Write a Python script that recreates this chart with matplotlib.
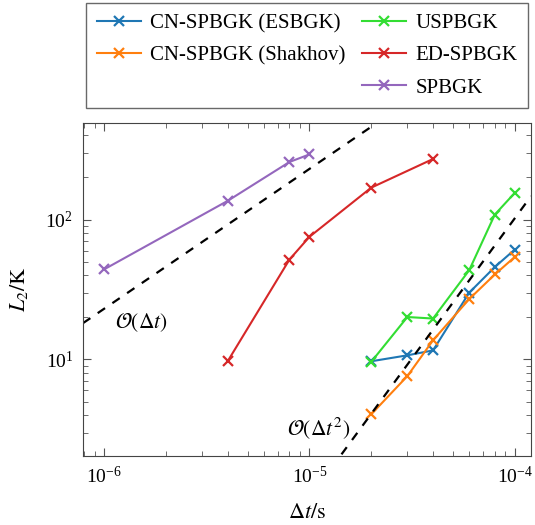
import numpy as np
import matplotlib
matplotlib.use("Agg")
import matplotlib.pyplot as plt
from matplotlib.lines import Line2D

plt.rcParams['font.family'] = ['Liberation Serif', 'DejaVu Serif']
plt.rcParams['mathtext.fontset'] = 'stix'

# Data
dt_esbgk = [2e-5, 3e-5, 4e-5, 6e-5, 8e-5, 1e-4]
l2_esbgk = [9.7, 10.7, 11.6, 30.0, 45.8, 61.0]

dt_shakhov = [2e-5, 3e-5, 4e-5, 6e-5, 8e-5, 1e-4]
l2_shakhov = [4.05, 7.6, 13.7, 27.0, 40.5, 54.0]

dt_uspbgk = [2e-5, 3e-5, 4e-5, 6e-5, 8e-5, 1e-4]
l2_uspbgk = [9.6, 20.1, 19.6, 43.4, 108.6, 155.0]

dt_ed = [4e-6, 8e-6, 1e-5, 2e-5, 4e-5]
l2_ed = [9.7, 51.8, 75.2, 169.0, 271.0]

dt_sp = [1e-6, 4e-6, 8e-6, 1e-5]
l2_sp = [44.0, 136.0, 258.0, 292.0]

order1_coeff = 2.3e7
order2_coeff = 1.02e10

xlim = (7.9e-7, 1.2e-4)
ylim = (2.04, 490)

fig = plt.figure(figsize=(5.35, 5.25), dpi=100)
ax = fig.add_axes([83/535, 1-456/525, (531-83)/535, (456-123)/525])

series = [
    (dt_esbgk, l2_esbgk, '#1f77b4', 'CN-SPBGK (ESBGK)'),
    (dt_shakhov, l2_shakhov, '#ff7f0e', 'CN-SPBGK (Shakhov)'),
    (dt_uspbgk, l2_uspbgk, '#33dd33', 'USPBGK'),
    (dt_ed, l2_ed, '#d62728', 'ED-SPBGK'),
    (dt_sp, l2_sp, '#9467bd', 'SPBGK'),
]
handles = {}
for x, y, c, lab in series:
    h, = ax.plot(x, y, color=c, marker='x', markersize=7, markeredgewidth=1.6,
                 linewidth=1.5, label=lab)
    handles[lab] = h

xx = np.logspace(np.log10(xlim[0]), np.log10(xlim[1]), 200)
ax.plot(xx, order1_coeff * xx, 'k--', linewidth=1.6, dashes=(4, 4))
ax.plot(xx, order2_coeff * xx**2, 'k--', linewidth=1.6, dashes=(4, 4))

ax.set_xscale('log')
ax.set_yscale('log')
ax.set_xlim(*xlim)
ax.set_ylim(*ylim)

ax.text(1.13e-6, 18.2, r'$\mathcal{O}(\Delta t)$', fontsize=15.5, va='center',
        ha='left')
ax.text(7.75e-6, 3.23, r'$\mathcal{O}(\Delta t^2)$', fontsize=15.5, va='center',
        ha='left')

ax.set_xlabel(r'$\Delta t/\mathrm{s}$', fontsize=16, labelpad=12)
ax.set_ylabel(r'$L_2/\mathrm{K}$', fontsize=16, labelpad=11)

ax.tick_params(which='both', direction='in', top=True, right=True, labelsize=14,
               color='#555555', pad=7)
ax.tick_params(which='major', length=6)
ax.tick_params(which='minor', length=3.5)
for s in ax.spines.values():
    s.set_color('#444444')

blank = Line2D([], [], color='none')
leg_handles = [handles['CN-SPBGK (ESBGK)'], handles['CN-SPBGK (Shakhov)'], blank,
               handles['USPBGK'], handles['ED-SPBGK'], handles['SPBGK']]
leg_labels = ['CN-SPBGK (ESBGK)', 'CN-SPBGK (Shakhov)', '',
              'USPBGK', 'ED-SPBGK', 'SPBGK']
leg = fig.legend(leg_handles, leg_labels, ncol=2, loc='upper center',
                 bbox_to_anchor=(307/535, 1-3/525), fontsize=15, frameon=True,
                 fancybox=False, edgecolor='#444444', handlelength=2.1,
                 handletextpad=0.45, columnspacing=0.8, borderpad=0.52,
                 labelspacing=0.6, borderaxespad=0)
leg.get_frame().set_linewidth(1.0)

fig.savefig('out.png', dpi=100)
